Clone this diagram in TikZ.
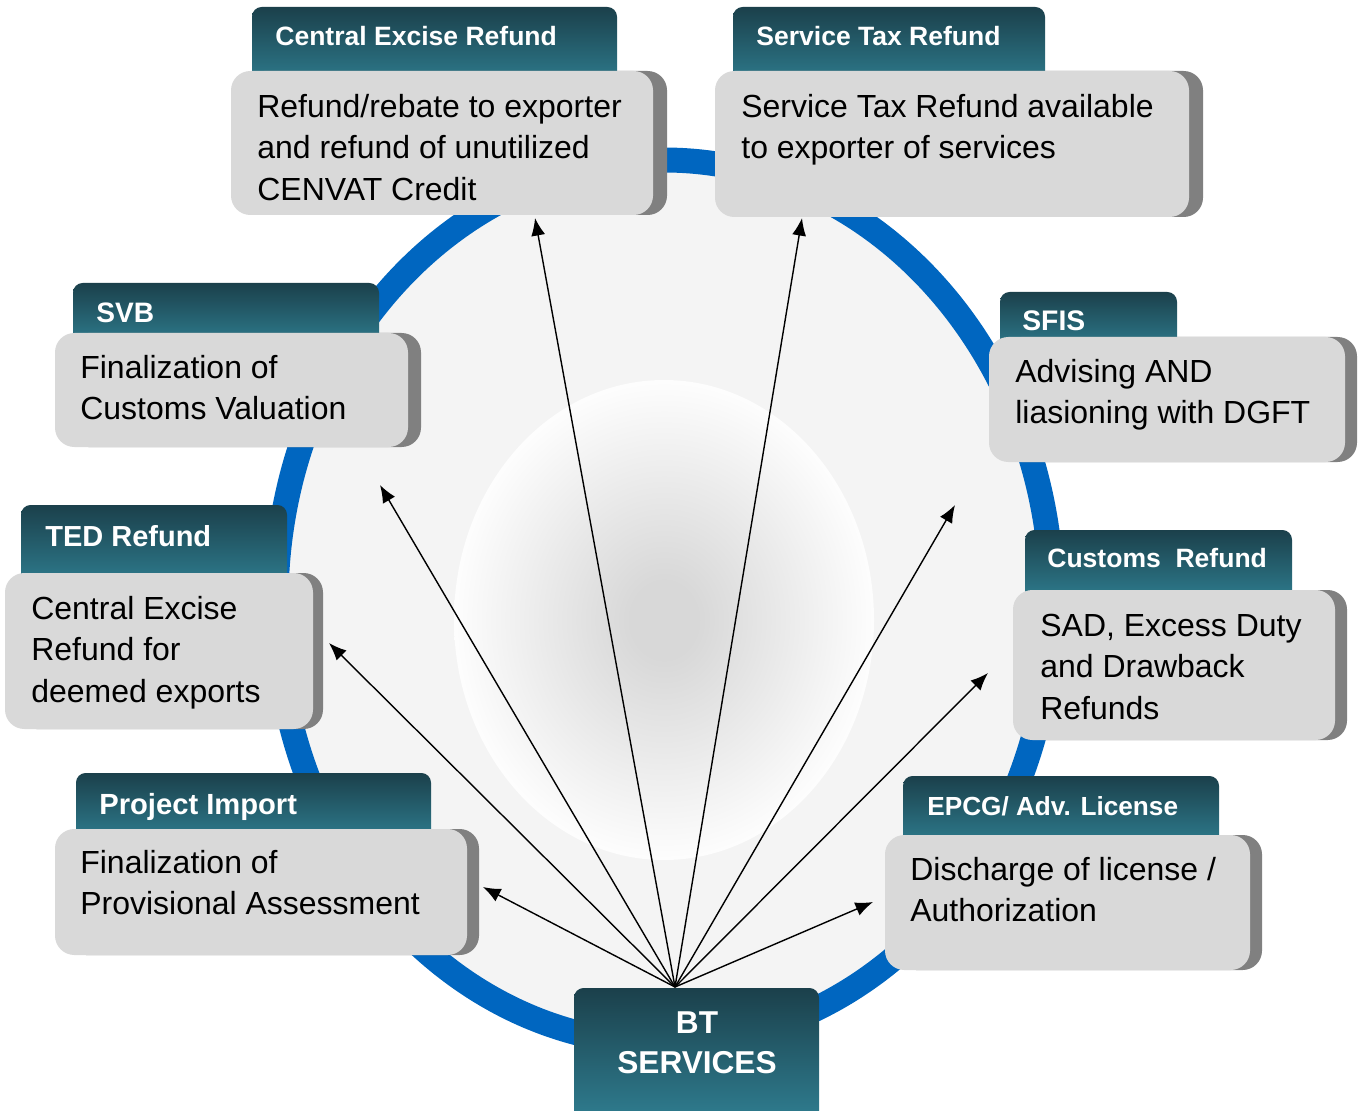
\documentclass[tikz,border=0pt]{standalone}
\usepackage{fontspec}
\setmainfont{Liberation Sans}
\usetikzlibrary{arrows.meta}

\definecolor{ringblue}{RGB}{0,102,192}
\definecolor{ringfill}{RGB}{244,244,244}
\definecolor{tabtop}{RGB}{27,64,75}
\definecolor{tabbot}{RGB}{46,124,142}
\definecolor{btbot}{RGB}{50,134,154}
\definecolor{cardgray}{RGB}{217,217,217}
\definecolor{cardside}{RGB}{128,128,128}
\definecolor{glowgray}{RGB}{216,216,216}

\pgfdeclareradialshading{glow}{\pgfpoint{0bp}{0bp}}{color(0bp)=(glowgray); color(4bp)=(glowgray); color(26bp)=(white); color(50bp)=(white)}

\begin{document}
\begin{tikzpicture}[x=0.02cm, y=-0.02cm,
    tab/.style={rounded corners=5.5pt, top color=tabtop, bottom color=tabbot},
    card/.style={fill=cardgray, rounded corners=11pt},
    side/.style={fill=cardside, rounded corners=11pt},
    head/.style={anchor=base west, inner sep=0pt, text=white, font=\fontsize{#1}{18}\selectfont\bfseries},
    body/.style={anchor=north west, inner sep=0pt, align=left, font=\fontsize{18.2}{23.6}\selectfont},
    spoke/.style={-{Latex[length=10pt,width=8pt]}, line width=0.8pt}]
    \useasboundingbox (0,0) rectangle (1365,1111);

    % ring and centre glow
    \filldraw[fill=ringfill, draw=ringblue, line width=0.5cm] (664,602) ellipse [x radius=388, y radius=442];
    \shade[shading=glow] (664,620) ellipse [x radius=210, y radius=240];

    % arrows from BT Services
    \coordinate (hub) at (675,987);
    \coordinate (certip) at (535,218);
    \coordinate (strtip) at (802,218);
    \coordinate (svbtip) at (380,485);
    \coordinate (tedtip) at (329,643);
    \coordinate (projtip) at (483,887);
    \coordinate (sfistip) at (955,505);
    \coordinate (custip) at (988,673);
    \coordinate (epcgtip) at (873,902);
    \foreach \t in {certip,strtip,svbtip,tedtip,projtip,sfistip,custip,epcgtip}
      \draw[spoke] (hub) -- (\t);

    % Central Excise Refund
    \shade[tab] (252,7) rectangle (617,85);
    \fill[side] (245,71) rectangle (667,215);
    \fill[card] (231,71) rectangle (653,215);
    \node[head=15.1] (cerhead) at (275,46) {Central Excise Refund};
    \node[body] (cerbody) at (257,88) {\strut Refund/rebate to exporter\\and refund of unutilized\\CENVAT Credit};

    % Service Tax Refund
    \shade[tab] (733,7) rectangle (1045,85);
    \fill[side] (729,71) rectangle (1203,217);
    \fill[card] (715,71) rectangle (1189,217);
    \node[head=15.1] (strhead) at (756,46) {Service Tax Refund};
    \node[body] (strbody) at (741,88) {\strut Service Tax Refund available\\to exporter of services};

    % SVB
    \shade[tab] (73,283) rectangle (379,345);
    \fill[side] (69,333) rectangle (421,447);
    \fill[card] (55,333) rectangle (408,447);
    \node[head=16] (svbhead) at (96,322) {SVB};
    \node[body] (svbbody) at (80,349) {\strut Finalization of\\Customs Valuation};

    % SFIS
    \shade[tab] (1000,292) rectangle (1177,350);
    \fill[side] (1002,337) rectangle (1357,462);
    \fill[card] (989,337) rectangle (1345,462);
    \node[head=16.1] (sfishead) at (1022,331) {SFIS};
    \node[body] (sfisbody) at (1015,353) {\strut Advising AND\\liasioning with DGFT};

    % TED Refund
    \shade[tab] (21,505) rectangle (287,585);
    \fill[side] (17,573) rectangle (323,729);
    \fill[card] (5,573) rectangle (313,729);
    \node[head=16.5] (tedhead) at (45,546) {TED Refund};
    \node[body] (tedbody) at (31,590) {\strut Central Excise\\Refund for\\deemed exports};

    % Customs Refund
    \shade[tab] (1025,530) rectangle (1292,600);
    \fill[side] (1025,590) rectangle (1347,740);
    \fill[card] (1013,590) rectangle (1335,740);
    \node[head=15.1] (cushead) at (1047,567) {Customs~~Refund};
    \node[body] (cusbody) at (1040,607) {\strut SAD, Excess Duty\\and Drawback\\Refunds};

    % Project Import
    \shade[tab] (76,773) rectangle (431,840);
    \fill[side] (67,829) rectangle (479,955);
    \fill[card] (55,829) rectangle (467,955);
    \node[head=16.6] (projhead) at (99,814) {Project Import};
    \node[body] (projbody) at (80,844) {\strut Finalization of\\Provisional Assessment};

    % EPCG / Adv. License
    \shade[tab] (903,776) rectangle (1219,845);
    \fill[side] (897,835) rectangle (1262,970);
    \fill[card] (885,835) rectangle (1250,970);
    \node[head=14.9] (epcghead) at (927,815) {EPCG/ Adv. License};
    \node[body] (epcgbody) at (910,851) {\strut Discharge of license /\\Authorization};

    % BT Services
    \shade[tab, bottom color=btbot] (574,988) rectangle (819,1140);
    \node[anchor=north, inner sep=0pt, align=center, text=white, font=\fontsize{18}{23.3}\selectfont\bfseries] (bt) at (697,1004) {\strut BT\\SERVICES};
\end{tikzpicture}
\end{document}
